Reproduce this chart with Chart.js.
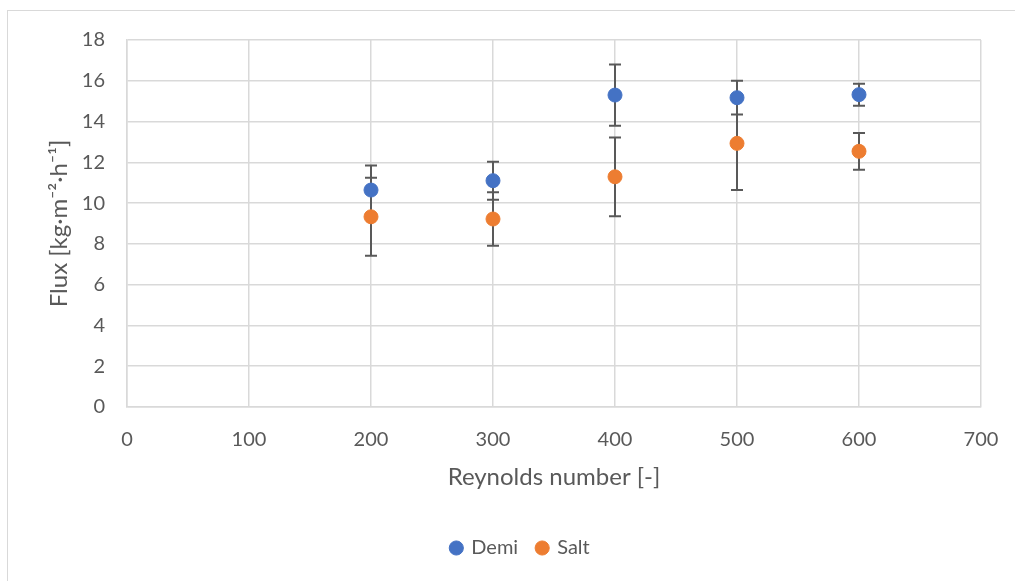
<!DOCTYPE html>
<html>
<head>
<meta charset="utf-8">
<script src="https://cdn.jsdelivr.net/npm/chart.js"></script>
<style>
  body { margin: 0; background: #fff; overflow: hidden; }
  #frame { position: absolute; left: 7px; top: 10px; width: 1020px; height: 580px; border: 1px solid #d9d9d9; }
  #fluxChart { position: absolute; left: 0; top: 0; }
</style>
</head>
<body>
<div id="frame"></div>
<canvas id="fluxChart" width="1015" height="581"></canvas>
<script>
// Reynolds number vs flux, error bars = std dev
const reynolds = [200, 300, 400, 500, 600];
const demiFlux = [10.64, 11.10, 15.30, 15.17, 15.32];
const demiErr  = [1.20, 0.93, 1.50, 0.83, 0.54];
const saltFlux = [9.33, 9.22, 11.29, 12.93, 12.54];
const saltErr  = [1.91, 1.31, 1.93, 2.29, 0.90];

const gray = '#595959';
const gridGray = '#d9d9d9';
const fontName = 'Lato';

const errors = [demiErr, saltErr];

// error bars drawn under the markers
const errorBars = {
  id: 'errorBars',
  beforeDatasetsDraw(chart) {
    const { ctx, scales: { x, y } } = chart;
    ctx.save();
    ctx.strokeStyle = gray;
    ctx.lineWidth = 2;
    chart.data.datasets.forEach((ds, d) => {
      ds.data.forEach((p, i) => {
        const px = x.getPixelForValue(p.x);
        const top = y.getPixelForValue(p.y + errors[d][i]);
        const bot = y.getPixelForValue(p.y - errors[d][i]);
        ctx.beginPath();
        ctx.moveTo(px, top); ctx.lineTo(px, bot);
        ctx.moveTo(px - 6, top); ctx.lineTo(px + 6, top);
        ctx.moveTo(px - 6, bot); ctx.lineTo(px + 6, bot);
        ctx.stroke();
      });
    });
    ctx.restore();
  }
};

// push the legend a bit right, Excel centres it on its own box
const legendShift = {
  id: 'legendShift',
  afterLayout(chart) {
    chart.legend.left += 26;
    chart.legend.right += 26;
  }
};

const toPoints = vals => vals.map((v, i) => ({ x: reynolds[i], y: v }));

new Chart(document.getElementById('fluxChart').getContext('2d'), {
  type: 'scatter',
  data: {
    datasets: [
      { label: 'Demi', data: toPoints(demiFlux), backgroundColor: '#4472c4', borderColor: '#4472c4',
        pointRadius: 7, pointBorderWidth: 1, pointStyle: 'circle' },
      { label: 'Salt', data: toPoints(saltFlux), backgroundColor: '#ed7d31', borderColor: '#ed7d31',
        pointRadius: 7, pointBorderWidth: 1, pointStyle: 'circle' }
    ]
  },
  options: {
    responsive: false,
    animation: false,
    layout: { padding: { left: 8, right: 34, top: 40, bottom: 13 } },
    scales: {
      x: {
        type: 'linear', min: 0, max: 700,
        ticks: { stepSize: 100, color: gray, padding: 21, font: { family: fontName, size: 20 } },
        grid: { color: gridGray, lineWidth: 1.5, drawTicks: false },
        border: { color: gridGray, width: 1.5 },
        title: { display: true, text: 'Reynolds number [-]', color: gray,
                 font: { family: fontName, size: 24 }, padding: { top: 0, bottom: 27 } },
        afterFit(scale) {
          scale.height = 112;
          scale.paddingLeft = 17;
          scale.paddingRight = 17;
        }
      },
      y: {
        min: 0, max: 18,
        ticks: { stepSize: 2, color: gray, padding: 22, font: { family: fontName, size: 20 } },
        grid: { color: gridGray, lineWidth: 1.5, drawTicks: false },
        border: { color: gridGray, width: 1.5 },
        title: { display: true, text: 'Flux [kg·m⁻²·h⁻¹]', color: gray,
                 font: { family: fontName, size: 24 }, padding: { top: 37, bottom: 0 } },
        afterFit(scale) { scale.width = 119; }
      }
    },
    plugins: {
      legend: {
        position: 'bottom',
        labels: { usePointStyle: true, boxWidth: 10, boxHeight: 10, padding: 19, color: gray,
                  font: { family: fontName, size: 20 } }
      },
      tooltip: { enabled: false }
    }
  },
  plugins: [errorBars, legendShift]
});
</script>
</body>
</html>
